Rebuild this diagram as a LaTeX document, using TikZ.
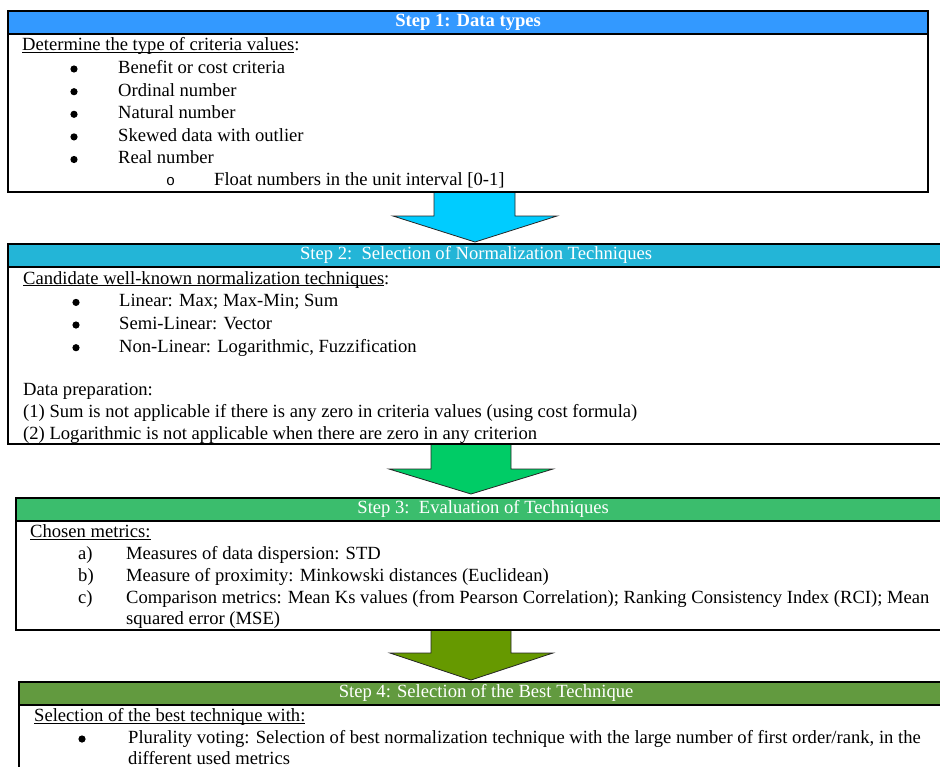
\documentclass[tikz,border=0pt]{standalone}
\usepackage{fontspec}
\setmainfont{Liberation Serif}
\newfontfamily\bulletfont{Liberation Mono}

\definecolor{headblue}{HTML}{3399FF}
\definecolor{arrowcyan}{HTML}{00CCFF}
\definecolor{headteal}{HTML}{23B5D7}
\definecolor{arrowgreen}{HTML}{00CC66}
\definecolor{headgreen}{HTML}{3BBD6D}
\definecolor{arrowolive}{HTML}{669900}
\definecolor{headolive}{HTML}{629A3F}

\begin{document}
\begin{tikzpicture}[x=1pt, y=-1pt, font=\fontsize{18.6}{22.6}\selectfont,
  stepbox/.style={draw, line width=2.2pt, fill=white, anchor=north west, inner sep=0pt},
  stephead/.style={draw, line width=2.2pt, anchor=north west, inner sep=0pt, minimum height=22.5pt, text=white},
  txt/.style={anchor=base west, inner sep=0pt},
  dot/.style={circle, fill, inner sep=0pt, minimum size=7.2pt},
  blockarrow/.style={draw=black!85, line width=0.8pt}]
\useasboundingbox (0,0) rectangle (940,766);
\clip (0,0) rectangle (940,766);

% arrows between the steps
\draw[blockarrow, fill=arrowcyan] (434,190) -- (434,216) -- (393,216) -- (475,242) -- (557,216) -- (515,216) -- (515,190) -- cycle;
\draw[blockarrow, fill=arrowgreen] (431,442) -- (431,469) -- (389,469) -- (471,494) -- (553,469) -- (511,469) -- (511,442) -- cycle;
\draw[blockarrow, fill=arrowolive] (431,628) -- (431,653) -- (390,653) -- (471,680) -- (553,653) -- (511,653) -- (511,628) -- cycle;

% step 1
\node[stepbox, minimum width=920pt, minimum height=181pt] (box1) at (7,10) {};
\node[stephead, fill=headblue, minimum width=920pt, font=\fontsize{18.6}{22.6}\selectfont\bfseries] (head1) at (box1.north west) {Step 1: Data types};
\node[txt] (intro1) at (22,50.5) {\underbar{Determine the type of criteria values}:};
\node[dot] (dot1a) at (74,69) {};
\node[txt] (item1a) at (118,73.3) {Benefit or cost criteria};
\node[dot] (dot1b) at (74,91.7) {};
\node[txt] (item1b) at (118,96) {Ordinal number};
\node[dot] (dot1c) at (74,114.3) {};
\node[txt] (item1c) at (118,118.6) {Natural number};
\node[dot] (dot1d) at (74,136.9) {};
\node[txt] (item1d) at (118,141.2) {Skewed data with outlier};
\node[dot] (dot1e) at (74,159.5) {};
\node[txt] (item1e) at (118,163.8) {Real number};
\node[txt] (sub1) at (166,185.8) {\bulletfont\fontsize{15}{18}\selectfont o};
\node[txt] (subitem1) at (214,185.8) {Float numbers in the unit interval [0-1]};

% step 2
\node[stepbox, minimum width=936pt, minimum height=200pt] (box2) at (7,243) {};
\node[stephead, fill=headteal, minimum width=936pt] (head2) at (box2.north west) {Step 2:\ \ Selection of Normalization Techniques};
\node[txt] (intro2) at (23,284) {\underbar{Candidate well-known normalization techniques}:};
\node[dot] (dot2a) at (76,302.4) {};
\node[txt] (item2a) at (119,306.7) {Linear: Max; Max-Min; Sum};
\node[dot] (dot2b) at (76,325) {};
\node[txt] (item2b) at (119,329.3) {Semi-Linear: Vector};
\node[dot] (dot2c) at (76,347.7) {};
\node[txt] (item2c) at (119,352) {Non-Linear: Logarithmic, Fuzzification};
\node[txt] (prep2) at (23,395) {Data preparation:};
\node[txt] (prep2a) at (23,417.3) {(1) Sum is not applicable if there is any zero in criteria values (using cost formula)};
\node[txt] (prep2b) at (23,439) {(2) Logarithmic is not applicable when there are zero in any criterion};

% step 3
\node[stepbox, minimum width=934pt, minimum height=132pt] (box3) at (15,497) {};
\node[stephead, fill=headgreen, minimum width=934pt] (head3) at (box3.north west) {Step 3:\ \ Evaluation of Techniques};
\node[txt] (intro3) at (30,537.5) {\underbar{Chosen metrics:}};
\node[txt] (lab3a) at (78,559.5) {a)};
\node[txt] (item3a) at (126,559.5) {Measures of data dispersion: STD};
\node[txt] (lab3b) at (78,581.5) {b)};
\node[txt] (item3b) at (126,581.5) {Measure of proximity: Minkowski distances (Euclidean)};
\node[txt] (lab3c) at (78,603) {c)};
\node[txt] (item3c) at (126,603) {Comparison metrics: Mean Ks values (from Pearson Correlation); Ranking Consistency Index (RCI); Mean};
\node[txt] (item3cc) at (126,624.5) {squared error (MSE)};

% step 4
\node[stepbox, minimum width=934pt, minimum height=100pt] (box4) at (18,681) {};
\node[stephead, fill=headolive, minimum width=934pt] (head4) at (box4.north west) {Step 4: Selection of the Best Technique};
\node[txt] (intro4) at (34,721.7) {\underbar{Selection of the best technique with:}};
\node[dot] (dot4a) at (82,739) {};
\node[txt] (item4a) at (128,743.3) {Plurality voting: Selection of best normalization technique with the large number of first order/rank, in the};
\node[txt] (item4aa) at (128,764.3) {different used metrics};
\end{tikzpicture}
\end{document}
